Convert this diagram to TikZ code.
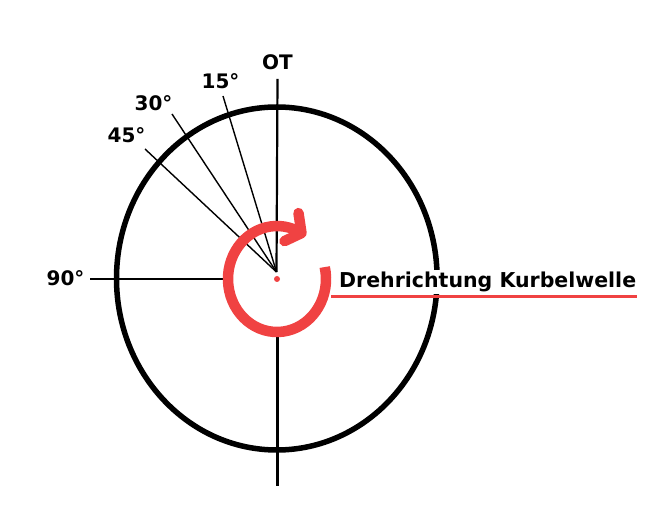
\documentclass[tikz,border=0pt]{standalone}
\usepackage{fontspec}
\setmainfont{DejaVu Sans}
\usepackage{xcolor}
\usetikzlibrary{arrows.meta}
\definecolor{turnred}{RGB}{240,66,66}

\begin{document}
\begin{tikzpicture}[x=1pt, y=1pt,
  axis/.style={line width=2.2pt},
  ray/.style={line width=1.4pt},
  lbl/.style={anchor=base, inner sep=0pt, font=\fontsize{20}{24}\selectfont\bfseries}]
\useasboundingbox (0,0) rectangle (662,506);
% centre of the crank circle
\coordinate (m) at (276.8,227.5);
\coordinate (hub) at (276.5,234);
\coordinate (c) at (277,227);
\draw[line width=5.5pt] (m) ellipse[x radius=160.3, y radius=171.5];
% axes
\coordinate (top) at (277.5,427);
\coordinate (bot) at (277.5,20);
\coordinate (left) at (90,227);
\draw[axis] (top) -- (hub);
\draw[axis] (277.5,171) -- (bot);
\draw[axis] (left) -- (223,227);
% crank angles
\coordinate (a15) at (223,410);
\coordinate (a30) at (172,392);
\coordinate (a45) at (145,357);
\draw[ray] (hub) -- (a15);
\draw[ray] (hub) -- (a30);
\draw[ray] (hub) -- (a45);
\node[lbl] (ot) at (277.5,436) {OT};
\node[lbl] (l15) at (220.5,417) {15°};
\node[lbl] (l30) at (153.5,395) {30°};
\node[lbl] (l45) at (126.5,363) {45°};
\node[lbl] (l90) at (65.5,220) {90°};
% direction of rotation
\node[anchor=base west, fill=white, inner sep=2pt, font=\fontsize{20.5}{24}\selectfont\bfseries]
  (dir) at (337,218) {Drehrichtung Kurbelwelle};
\draw[turnred, line width=3pt] (331,209) -- (637,209);
\draw[turnred, line width=10.5pt]
  (c) ++(13:49 and 53) arc[start angle=13, end angle=-300, x radius=49, y radius=53]
  coordinate (tip);
\draw[turnred, line width=10.5pt, line cap=round, line join=round]
  (tip) ++(-3,20) -- (tip) -- ++(-17,-8);
\fill[turnred] (c) circle[radius=3];
\end{tikzpicture}
\end{document}
